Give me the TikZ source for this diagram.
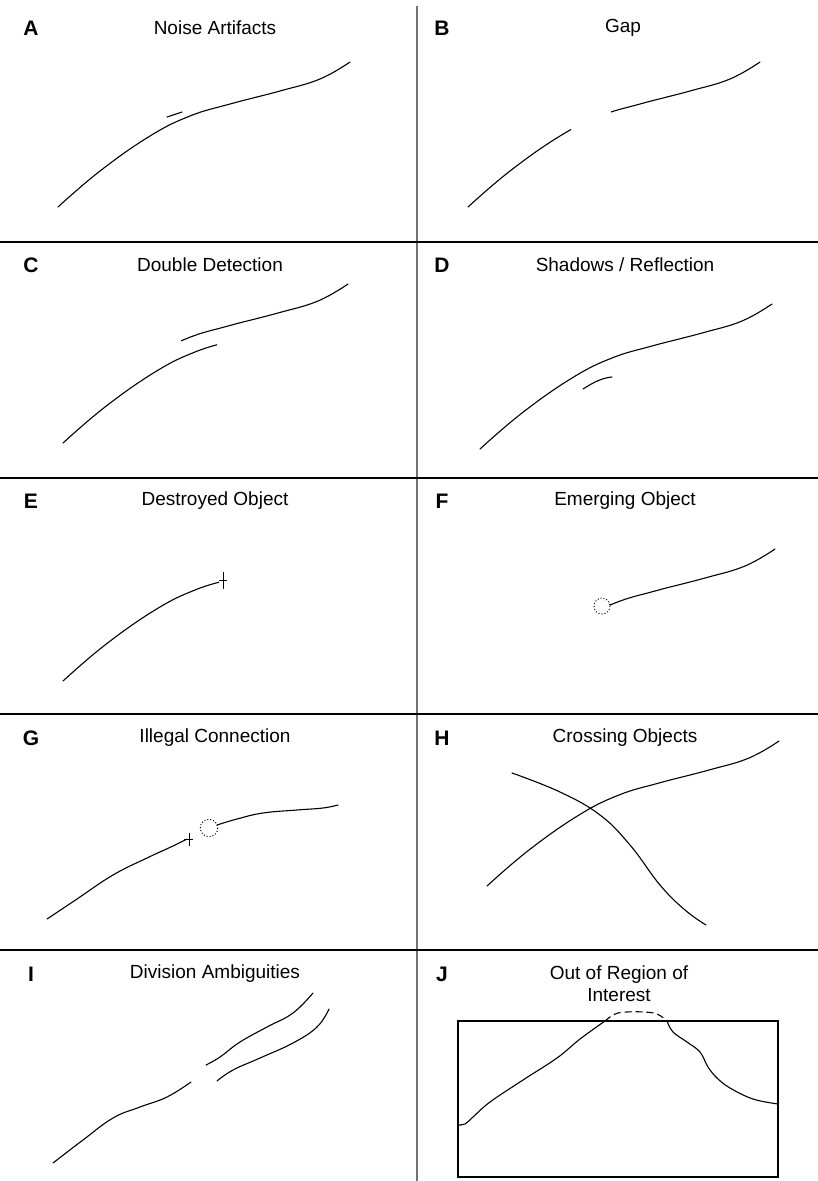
\documentclass[tikz,border=0pt]{standalone}
\usepackage{fontspec}
\setmainfont{Liberation Sans}
\begin{document}
\begin{tikzpicture}[x=1pt,y=-1pt,
  track/.style={line width=1.1pt, line cap=round},
  divider/.style={line width=1.4pt, black},
  title/.style={font=\fontsize{19}{22}\selectfont, anchor=center, inner sep=0pt},
  tag/.style={font=\fontsize{21}{23}\selectfont\bfseries, anchor=center, inner sep=0pt},
  marker/.style={line width=1pt, dotted},
  tick/.style={line width=1pt}]
\useasboundingbox (0,0) rectangle (818,1181);
\fill[white] (0,0) rectangle (818,1181);

% reference trajectory, reused in several panels
\def\trajectory{plot[smooth, tension=0.7] coordinates {(58,207) (100,171) (150,136) (190,116) (230,104) (280,91) (320,79) (350,62)}}

% panel grid
\draw[line width=1.5pt, black!55] (417,6) -- (417,1181);
\foreach \yy in {242,478,714,950} \draw[divider] (0,\yy) -- (818,\yy);

% titles and tags
\node[tag] (tA) at (31,28) {A};   \node[title] (nA) at (215,28) {Noise Artifacts};
\node[tag] (tB) at (442,28) {B};  \node[title] (nB) at (623,28) {Gap};
\node[tag] (tC) at (31,265) {C};  \node[title] (nC) at (210,265) {Double Detection};
\node[tag] (tD) at (442,265) {D}; \node[title] (nD) at (625,265) {Shadows / Reflection};
\node[tag] (tE) at (31,501) {E};  \node[title] (nE) at (215,501) {Destroyed Object};
\node[tag] (tF) at (442,501) {F}; \node[title] (nF) at (625,501) {Emerging Object};
\node[tag] (tG) at (31,738) {G};  \node[title] (nG) at (215,738) {Illegal Connection};
\node[tag] (tH) at (442,738) {H}; \node[title] (nH) at (625,738) {Crossing Objects};
\node[tag] (tI) at (31,974) {I};  \node[title] (nI) at (215,974) {Division Ambiguities};
\node[tag] (tJ) at (442,974) {J};
\node[title, align=center] (nJ) at (619,984) {Out of Region of\\Interest};

% A: noise artifacts
\draw[track] \trajectory;
\draw[track] (167,117) -- (182,112);

% B: gap
\begin{scope}[shift={(410,0)}]
  \begin{scope}\clip (-50,0) rectangle (161,240); \draw[track] \trajectory; \end{scope}
  \begin{scope}\clip (201,0) rectangle (400,240); \draw[track] \trajectory; \end{scope}
\end{scope}

% C: double detection
\begin{scope}[shift={(5,236)}]
  \clip (-50,0) rectangle (212,240); \draw[track] \trajectory;
\end{scope}
\begin{scope}[shift={(-2,222)}]
  \clip (183,0) rectangle (400,240); \draw[track] \trajectory;
\end{scope}

% D: shadow / reflection
\begin{scope}[shift={(422,242)}]
  \draw[track] \trajectory;
\end{scope}
\draw[track] (583,389) .. controls (594,382) and (602,378) .. (612,377);

% E: destroyed object
\begin{scope}[shift={(5,474)}]
  \clip (-50,0) rectangle (214,240); \draw[track] \trajectory;
\end{scope}
\draw[tick] (223,572) -- (223,589) (219,580) -- (227,580);

% F: emerging object
\begin{scope}[shift={(425,487)}]
  \clip (185,0) rectangle (400,240); \draw[track] \trajectory;
\end{scope}
\draw[marker] (602,606) circle (8);

% G: illegal connection
\draw[track] plot[smooth, tension=0.7] coordinates {(47,919) (77,899) (113,875) (147,858) (173,846) (187,839)};
\draw[tick] (189,833) -- (189,846) (184,839) -- (193,839);
\draw[marker] (209,828) circle (8.7);
\draw[track] plot[smooth, tension=0.7] coordinates {(217,825) (237,819) (263,813) (297,810) (323,808) (338,805)};

% H: crossing objects
\begin{scope}[shift={(429,679)}]
  \draw[track] \trajectory;
\end{scope}
\draw[track] plot[smooth, tension=0.7] coordinates {(512,773) (560,792) (600,815) (630,845) (660,885) (685,910) (706,925)};

% I: division ambiguities
\draw[track] plot[smooth, tension=0.7] coordinates {(53,1163) (83,1140) (113,1118) (140,1107) (167,1097) (191,1082)};
\draw[track] plot[smooth, tension=0.7] coordinates {(206,1065) (220,1057) (240,1042) (267,1027) (293,1013) (313,993)};
\draw[track] plot[smooth, tension=0.7] coordinates {(217,1081) (233,1070) (260,1058) (293,1043) (317,1027) (329,1009)};

% J: out of region of interest
\draw[line width=1.2pt] (458,1021) rectangle (778,1177);
\draw[track] plot[smooth, tension=0.6] coordinates {(458,1125) (465,1124) (473,1117) (490,1102) (523,1080) (557,1058) (580,1039) (605,1021)};
\draw[line width=1.1pt, dash pattern=on 7pt off 4pt] plot[smooth, tension=0.7] coordinates {(605,1021) (615,1014) (627,1012) (643,1012) (657,1014) (667,1021)};
\draw[track] plot[smooth, tension=0.6] coordinates {(667,1021) (673,1032) (687,1042) (700,1052) (708,1067) (717,1078) (730,1088) (753,1099) (778,1104)};
\end{tikzpicture}
\end{document}
